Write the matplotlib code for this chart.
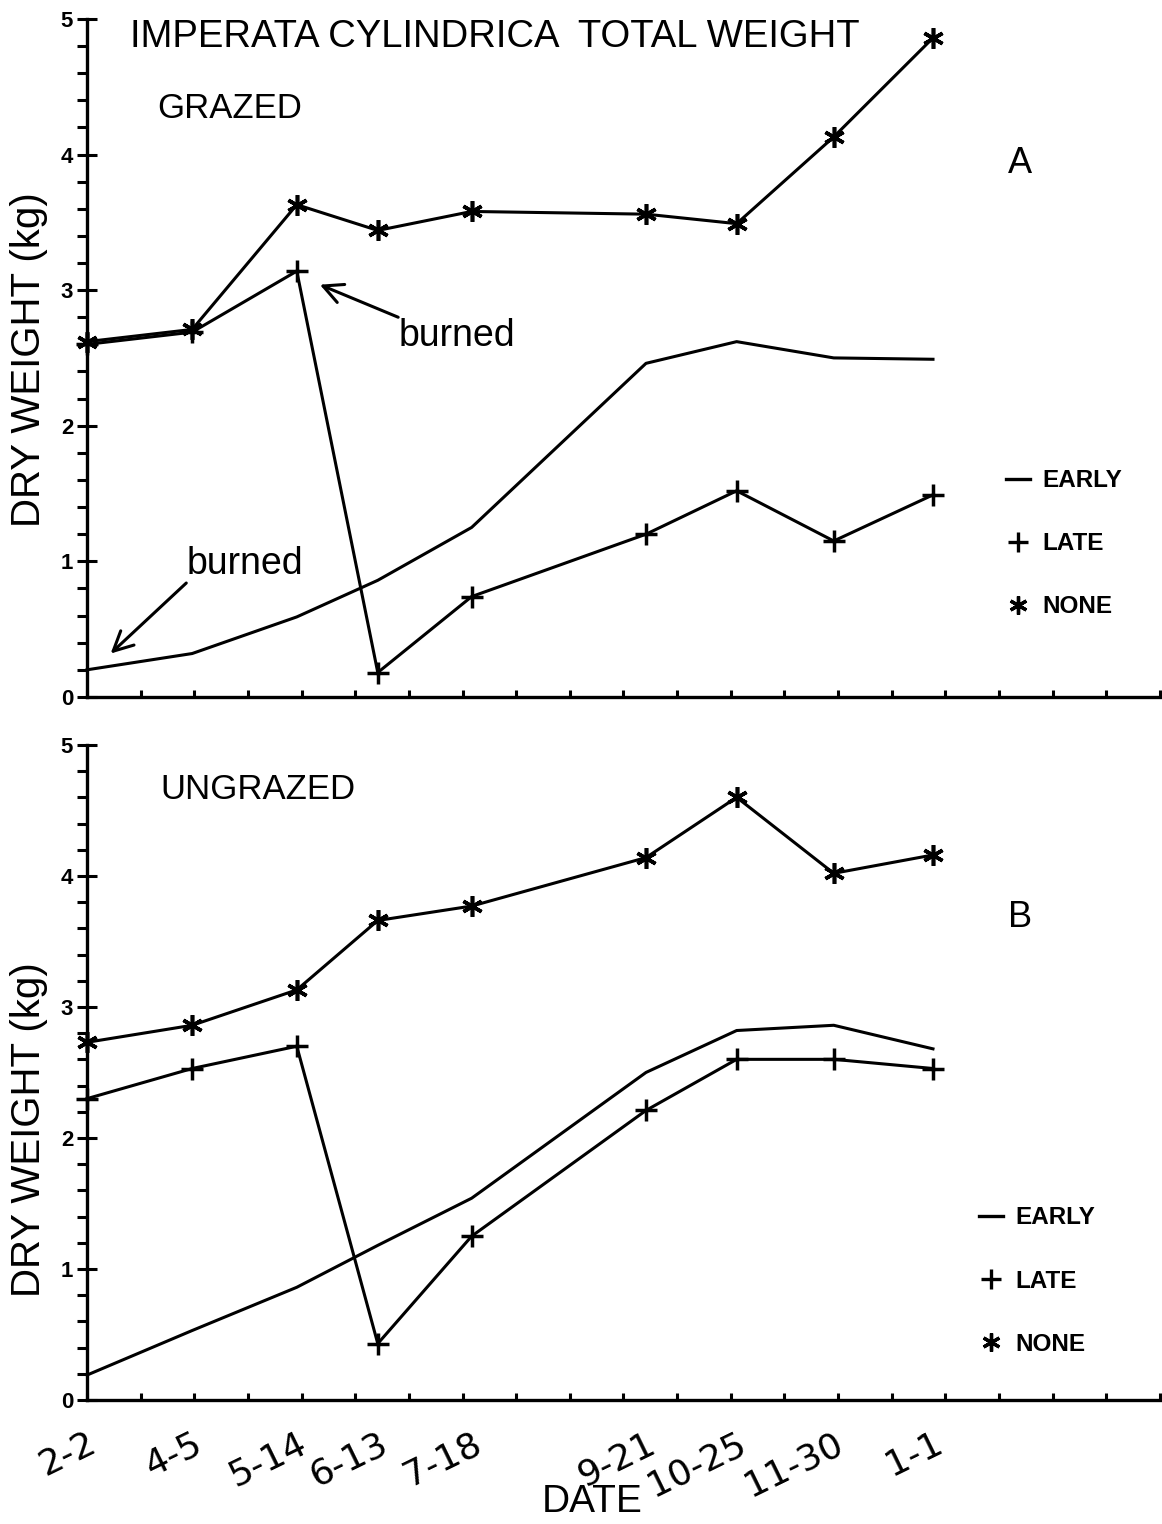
import numpy as np
import matplotlib.pyplot as plt
from matplotlib.lines import Line2D

# sampling dates and where they sit on the date axis
dates = ["2-2", "4-5", "5-14", "6-13", "7-18", "9-21", "10-25", "11-30", "1-1"]
date_pos = [0, 1.96, 3.91, 5.42, 7.17, 10.42, 12.11, 13.92, 15.77]

# dry weight (kg), grazed plots
grazed_early = [0.20, 0.32, 0.59, 0.86, 1.25, 2.46, 2.62, 2.50, 2.49]
grazed_late = [2.60, 2.69, 3.14, 0.18, 0.74, 1.20, 1.52, 1.15, 1.49]
grazed_none = [2.62, 2.71, 3.63, 3.44, 3.58, 3.56, 3.49, 4.13, 4.86]

# dry weight (kg), ungrazed plots
ungrazed_early = [0.19, 0.53, 0.86, 1.18, 1.54, 2.50, 2.82, 2.86, 2.68]
ungrazed_late = [2.30, 2.53, 2.70, 0.43, 1.25, 2.21, 2.60, 2.60, 2.53]
ungrazed_none = [2.73, 2.86, 3.13, 3.66, 3.77, 4.14, 4.60, 4.02, 4.16]

sans = ["Liberation Sans", "DejaVu Sans"]
star = (6, 2, 0)
lw = 2.2

fig = plt.figure(figsize=(11.62, 15.24), dpi=100)
ax1 = fig.add_axes([0.0749, 0.5427, 0.9233, 0.4449])
ax2 = fig.add_axes([0.0749, 0.0814, 0.9233, 0.4298])


def style_axes(ax):
    ax.set_xlim(0, 20)
    ax.set_ylim(0, 5)
    for s in ["top", "right"]:
        ax.spines[s].set_visible(False)
    for s in ["left", "bottom"]:
        ax.spines[s].set_linewidth(2.4)
    ax.set_yticks(range(6))
    ax.set_yticks(np.arange(0, 5.01, 0.2), minor=True)
    ax.set_xticks(range(21))
    ax.set_xticklabels([])
    ax.tick_params(axis="y", which="major", direction="inout", length=14,
                   width=2.2, labelsize=16, pad=3)
    ax.tick_params(axis="y", which="minor", direction="out", length=7, width=2.2)
    ax.tick_params(axis="x", which="major", direction="in", length=5, width=2.2)
    for t in ax.get_yticklabels():
        t.set_fontweight("bold")
        t.set_family(sans)


def draw_series(ax, early, late, none):
    ax.plot(date_pos, early, color="k", lw=lw, clip_on=False)
    ax.plot(date_pos, late, color="k", lw=lw, marker="+", ms=16, mew=2.5,
            clip_on=False)
    ax.plot(date_pos, none, color="k", lw=lw, marker=star, ms=15, mew=2.6,
            clip_on=False)


def add_key(ax, anchor):
    handles = [Line2D([], [], color="k", lw=2.4),
               Line2D([], [], color="k", ls="none", marker="+", ms=14, mew=2.4),
               Line2D([], [], color="k", ls="none", marker=star, ms=13, mew=2.4)]
    ax.legend(handles, ["EARLY", "LATE", "NONE"], loc="upper left",
              bbox_to_anchor=anchor, frameon=False, borderpad=0,
              handlelength=1.0, handletextpad=0.5, labelspacing=1.65,
              prop={"family": sans, "size": 17.5, "weight": "bold"})


style_axes(ax1)
style_axes(ax2)
draw_series(ax1, grazed_early, grazed_late, grazed_none)
draw_series(ax2, ungrazed_early, ungrazed_late, ungrazed_none)

add_key(ax1, (0.845, 0.354))
add_key(ax2, (0.820, 0.314))

ax1.text(0.8, 4.87, "IMPERATA CYLINDRICA  TOTAL WEIGHT", family=sans,
         fontsize=27.5, ha="left", va="center")
ax1.text(1.3, 4.34, "GRAZED", family=sans, fontsize=25, ha="left", va="center")
ax2.text(1.36, 4.66, "UNGRAZED", family=sans, fontsize=25, ha="left", va="center")
ax1.text(17.39, 3.93, "A", family=sans, fontsize=26, ha="center", va="center")
ax2.text(17.39, 3.68, "B", family=sans, fontsize=26, ha="center", va="center")

# burn annotations: arrow and label drawn separately
arrow = dict(arrowstyle="->", lw=2.2, color="k", mutation_scale=35,
             shrinkA=0, shrinkB=0)
ax1.annotate("", xy=(4.34, 3.04), xytext=(5.80, 2.80), arrowprops=arrow)
ax1.text(5.80, 2.66, "burned", family=sans, fontsize=27, ha="left", va="center")
ax1.annotate("", xy=(0.44, 0.32), xytext=(1.85, 0.84), arrowprops=arrow)
ax1.text(1.85, 0.98, "burned", family=sans, fontsize=27, ha="left", va="center")

for pos, lab in zip(date_pos, dates):
    ax2.text(pos, -0.2, lab, rotation=26, rotation_mode="anchor",
             ha="right", va="top", fontsize=26)
ax2.text(9.41, -0.78, "DATE", family=sans, fontsize=28, ha="center",
         va="center")

fig.text(0.025, 0.7638, "DRY WEIGHT (kg)", rotation=90, family=sans,
         fontsize=29, ha="center", va="center")
fig.text(0.025, 0.2585, "DRY WEIGHT (kg)", rotation=90, family=sans,
         fontsize=29, ha="center", va="center")

fig.savefig("out.png", dpi=100)
